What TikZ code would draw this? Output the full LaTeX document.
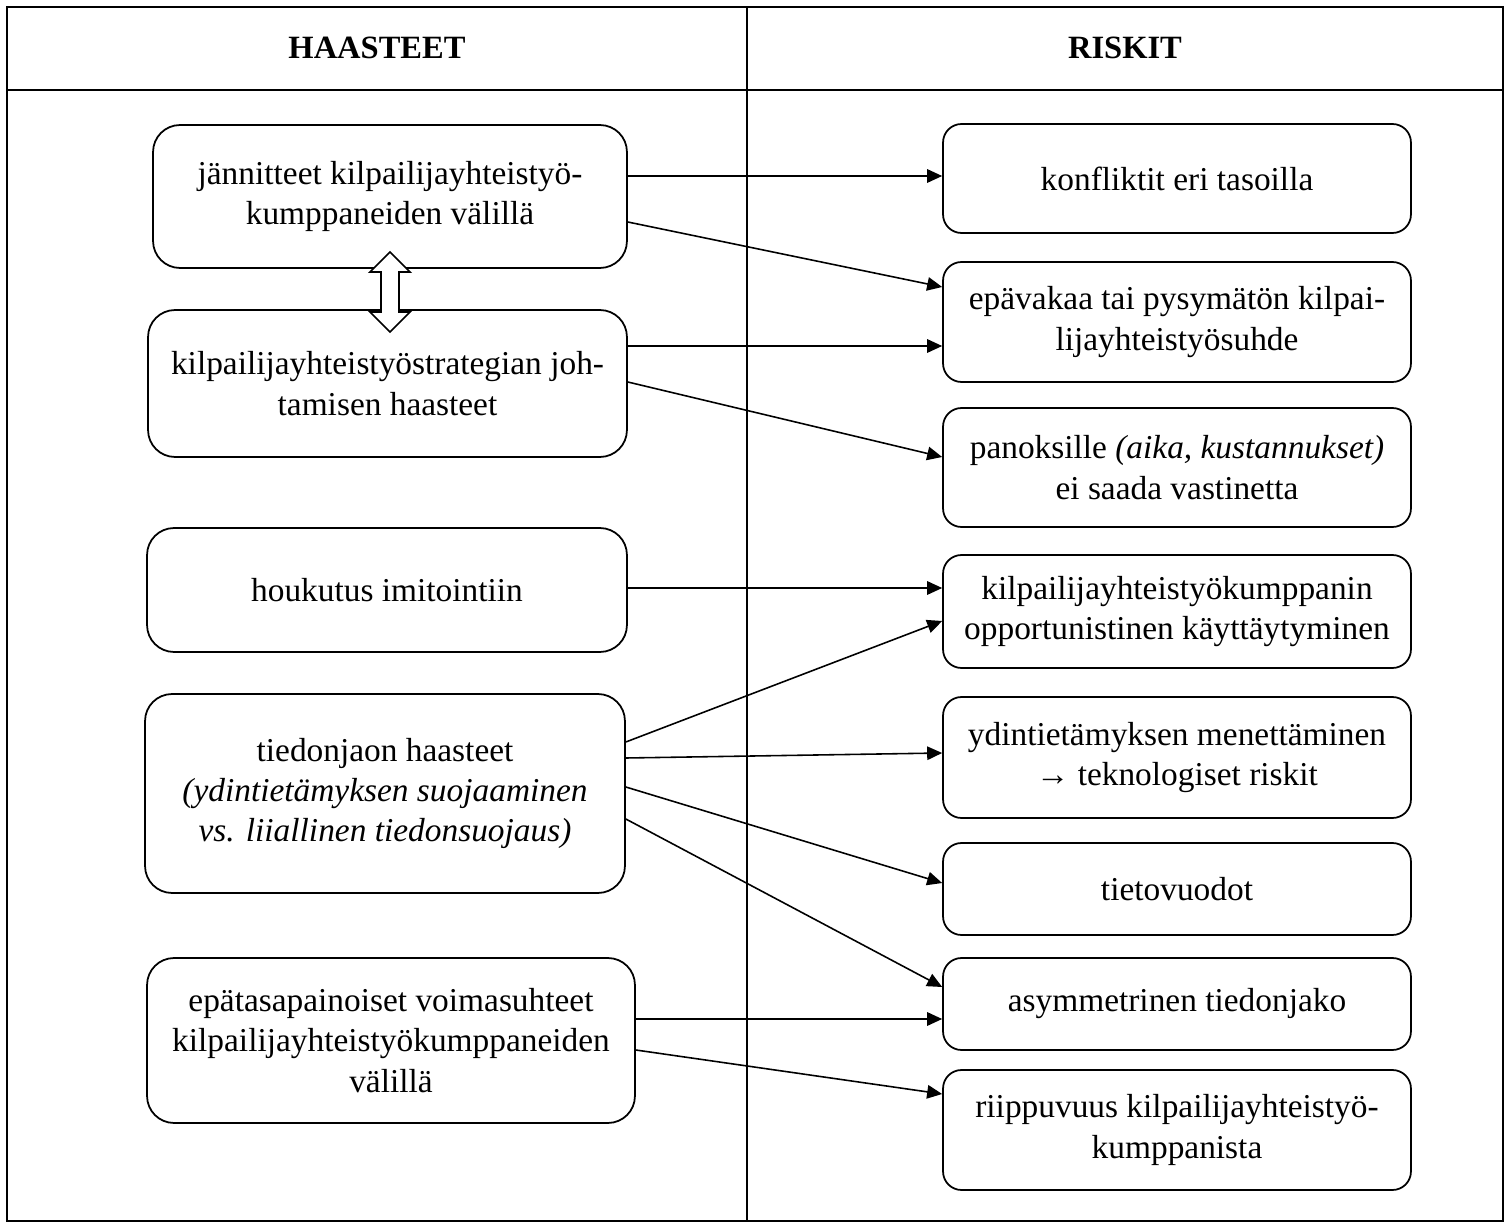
\documentclass[tikz,border=0pt]{standalone}
\usepackage{fontspec}
\setmainfont{Liberation Serif}
\usetikzlibrary{arrows.meta, calc}

\begin{document}
\begin{tikzpicture}[x=0.02cm, y=-0.02cm,
  head/.style={font=\bfseries\fontsize{18.5}{22}\selectfont},
  challenge/.style={draw, line width=1pt, rounded corners=0.54cm, align=center, inner sep=0pt, font=\fontsize{19}{23}\selectfont},
  risk/.style={draw, line width=1pt, rounded corners=0.37cm, align=center, inner sep=0pt, minimum width=9.36cm, font=\fontsize{19}{23}\selectfont},
  arr/.style={-{Triangle[length=0.3cm, width=0.27cm]}, line width=0.9pt},
  twoway/.style={draw, fill=white, line width=1pt, line join=miter}
]
\useasboundingbox (0,0) rectangle (1509,1223);

% table frame
\draw[line width=1.3pt] (7,7) rectangle (1503,1221);
\draw[line width=1.3pt] (7,90) -- (1503,90);
\draw[line width=1.3pt] (747,7) -- (747,1221);
\node[head] (hLeft) at (377,48) {HAASTEET};
\node[head] (hRight) at (1125,48) {RISKIT};

% challenges
\node[challenge, minimum width=9.48cm, minimum height=2.86cm] (L1) at (390,196.5)
  {jännitteet kilpailijayhteistyö-\\kumppaneiden välillä};
\node[challenge, minimum width=9.58cm, minimum height=2.94cm] (L2) at (387.5,383.5)
  {kilpailijayhteistyöstrategian joh-\\tamisen haasteet};
\node[challenge, minimum width=9.6cm, minimum height=2.48cm] (L3) at (387,590)
  {houkutus imitointiin};
\node[challenge, minimum width=9.6cm, minimum height=3.98cm] (L4) at (385,793.5)
  {tiedonjaon haasteet\\\textit{(ydintietämyksen suojaaminen}\\\textit{vs. liiallinen tiedonsuojaus)}};
\node[challenge, minimum width=9.76cm, minimum height=3.3cm] (L5) at (391,1040.5)
  {epätasapainoiset voimasuhteet\\kilpailijayhteistyökumppaneiden\\välillä};

% hollow two-way arrow between L1 and L2
\draw[twoway] (390,252) -- (410,272) -- (399,272) -- (399,312) -- (410,312) -- (390,332)
  -- (370,312) -- (381,312) -- (381,272) -- (370,272) -- cycle;

% risks
\node[risk, minimum height=2.18cm] (R1) at (1177,178.5) {konfliktit eri tasoilla};
\node[risk, minimum height=2.4cm] (R2) at (1177,322)
  {epävakaa tai pysymätön kilpai-\\lijayhteistyösuhde};
\node[risk, minimum height=2.38cm] (R3) at (1177,467.5)
  {panoksille \textit{(aika, kustannukset)}\\ei saada vastinetta};
\node[risk, minimum height=2.26cm] (R4) at (1177,611.5)
  {kilpailijayhteistyökumppanin\\opportunistinen käyttäytyminen};
\node[risk, minimum height=2.42cm] (R5) at (1177,757.5)
  {ydintietämyksen menettäminen\\→ teknologiset riskit};
\node[risk, minimum height=1.84cm] (R6) at (1177,889) {tietovuodot};
\node[risk, minimum height=1.84cm] (R7) at (1177,1004) {asymmetrinen tiedonjako};
\node[risk, minimum height=2.4cm] (R8) at (1177,1130)
  {riippuvuus kilpailijayhteistyö-\\kumppanista};

% links
\foreach \a/\da/\b/\db in {
  L1/-20.5/R1/-2.5, L1/25.5/R2/-35, L2/-37.5/R2/24, L2/-1.5/R3/-10.5,
  L3/-2/R4/-23.5, L4/-51.5/R4/9.5, L4/-35.5/R5/-4.5, L4/-6.5/R6/-6,
  L4/25.5/R7/-17, L5/-21.5/R7/15, L5/9.5/R8/-36
}{
  \draw[arr] ($(\a.east)+(0,\da)$) -- ($(\b.west)+(0,\db)$);
}
\end{tikzpicture}
\end{document}
